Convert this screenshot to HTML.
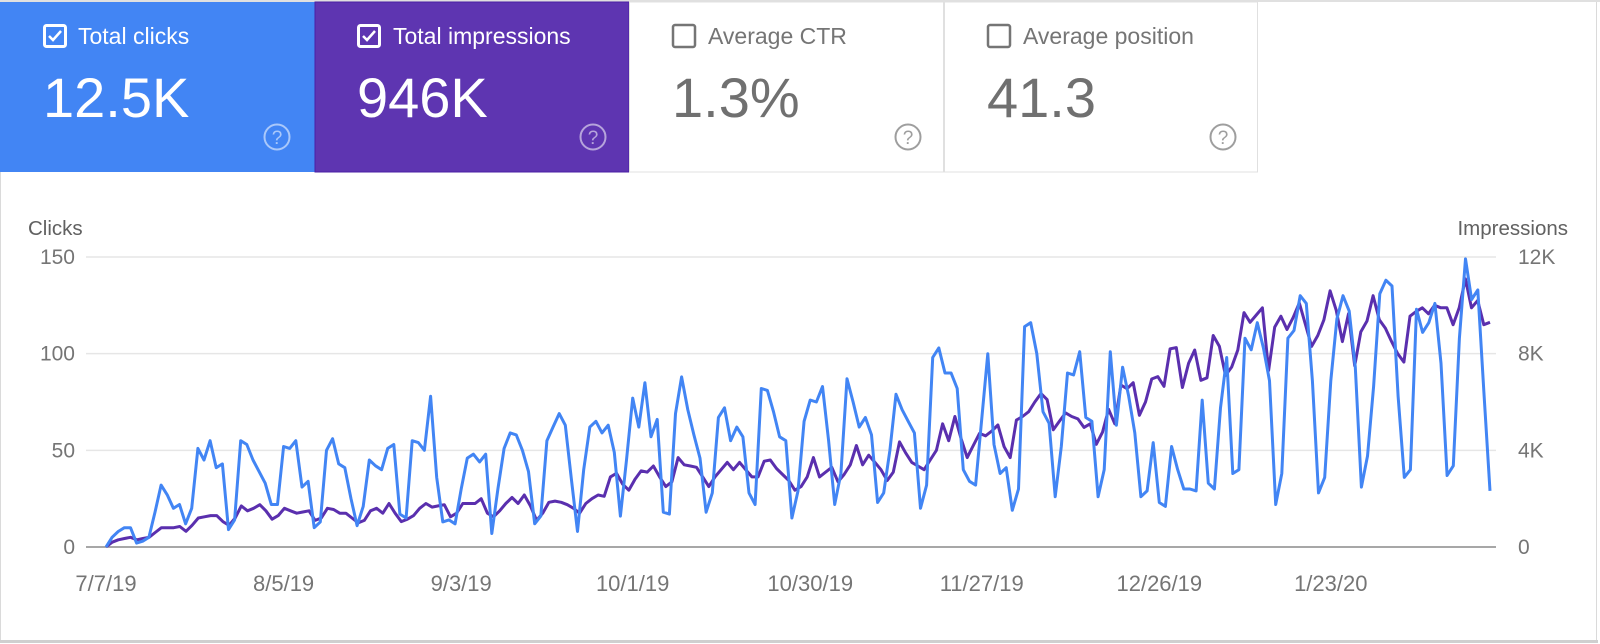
<!DOCTYPE html>
<html><head><meta charset="utf-8"><style>
html,body{margin:0;padding:0;background:#fff;width:1600px;height:644px;overflow:hidden;font-family:"Liberation Sans",sans-serif}
svg{display:block}
</style></head><body>
<svg id="root" width="1600" height="644" viewBox="0 0 1600 644" xmlns="http://www.w3.org/2000/svg">
  <rect x="0.5" y="0.5" width="1596" height="641" fill="#fff" stroke="#dadada"/>
  <rect x="0" y="640" width="1598" height="3" fill="#cfcfcf"/>
  <rect x="0" y="0" width="1600" height="2" fill="#e0e0e0"/>

  <g>
    <rect x="0" y="2" width="315" height="170" fill="#4285f4"/>
    <g>
      <rect x="44.5" y="25.5" width="21" height="21" rx="2" fill="none" stroke="#fff" stroke-width="3"/>
      <path d="M49 36 l4 4 l8 -9" fill="none" stroke="#fff" stroke-width="2.5"/>
    </g>
    <text x="78" y="44" font-size="23" fill="#fff">Total clicks</text>
    <text x="43" y="117" font-size="56" fill="#fff">12.5K</text>
    <g opacity="0.55">
      <circle cx="277" cy="137" r="12.5" fill="none" stroke="#fff" stroke-width="2"/>
      <text x="277" y="144" font-size="19" fill="#fff" text-anchor="middle">?</text>
    </g>
  </g>

  <g>
    <rect x="315" y="2" width="314" height="170" fill="#5e35b1" stroke="#4a1fa5" stroke-width="1"/>
    <g>
      <rect x="358.5" y="25.5" width="21" height="21" rx="2" fill="none" stroke="#fff" stroke-width="3"/>
      <path d="M363 36 l4 4 l8 -9" fill="none" stroke="#fff" stroke-width="2.5"/>
    </g>
    <text x="393" y="44" font-size="23" fill="#fff">Total impressions</text>
    <text x="357" y="117" font-size="56" fill="#fff">946K</text>
    <g opacity="0.55">
      <circle cx="593" cy="137" r="12.5" fill="none" stroke="#fff" stroke-width="2"/>
      <text x="593" y="144" font-size="19" fill="#fff" text-anchor="middle">?</text>
    </g>
  </g>

  <g>
    <rect x="629.5" y="2" width="314" height="170" fill="#fff" stroke="#e0e0e0"/>
    <rect x="673" y="25" width="22" height="22" rx="2" fill="none" stroke="#757575" stroke-width="2.5"/>
    <text x="708" y="44" font-size="23" fill="#757575">Average CTR</text>
    <text x="672" y="117" font-size="56" fill="#707070">1.3%</text>
    <g>
      <circle cx="908" cy="137" r="12.5" fill="none" stroke="#9e9e9e" stroke-width="2"/>
      <text x="908" y="144" font-size="19" fill="#9e9e9e" text-anchor="middle">?</text>
    </g>
  </g>

  <g>
    <rect x="944.5" y="2" width="313" height="170" fill="#fff" stroke="#e0e0e0"/>
    <rect x="988" y="25" width="22" height="22" rx="2" fill="none" stroke="#757575" stroke-width="2.5"/>
    <text x="1023" y="44" font-size="23" fill="#757575">Average position</text>
    <text x="987" y="117" font-size="56" fill="#707070">41.3</text>
    <g>
      <circle cx="1223" cy="137" r="12.5" fill="none" stroke="#9e9e9e" stroke-width="2"/>
      <text x="1223" y="144" font-size="19" fill="#9e9e9e" text-anchor="middle">?</text>
    </g>
  </g>

  <text x="28" y="235" font-size="20.5" fill="#616161">Clicks</text>
  <text x="1568" y="235" font-size="20.5" fill="#616161" text-anchor="end">Impressions</text>
  <g id="chart"></g>
</svg>
<script>
const clicks = [0,5,8,10,10,2,3,5,18,32,27,20,22,12,20,51,
45,55,41,43,9,14,55,53,45,39,33,22,22,
52,51,55,31,34,10,13,50,56,43,41,25,11,21,
45,42,40,51,53,17,15,55,54,50,78,36,13,
14,12,30,46,48,44,48,7,30,51,59,58,50,39,12,16,55,
62,69,63,35,8,40,62,65,59,63,49,16,45,77,62,85,57,66,18,
17,69,88,71,58,46,18,28,67,72,55,62,57,28,22,82,81,70,57,55,
15,29,65,76,75,83,55,22,38,87,75,62,67,58,23,28,50,79,71,65,59,20,32,98,103,90,90,82,
40,34,32,66,100,53,38,41,19,30,114,116,100,70,64,26,52,90,89,101,67,65,26,40,101,63,93,78,
59,26,29,54,23,21,52,40,30,30,29,76,33,30,72,98,38,40,108,102,116,103,86,22,38,108,112,130,126,86,28,36,86,118,130,122,93,31,47,83,131,138,135,78,36,40,123,111,116,126,95,37,42,108,149,128,133,80,29];
const impressions = [0,200,300,350,400,300,350,400,600,800,800,800,850,650,900,1200,
1250,1300,1300,1050,900,1200,1700,1500,1600,1750,1500,1150,1300,
1600,1500,1400,1450,1500,1100,1200,1600,1550,1400,1400,1200,1000,1100,
1500,1600,1400,1800,1400,1050,1150,1300,1600,1800,1650,1700,1750,
1250,1400,1800,1800,1800,2000,1400,1250,1500,1800,2050,1800,2150,1700,1100,1400,1850,
1900,1850,1750,1600,1400,1800,2000,2150,2100,2900,3050,2600,2350,2800,3150,3100,3350,2900,2500,
2700,3700,3400,3350,3300,2900,2500,2900,3200,3500,3200,3500,3200,2900,2900,3550,3600,3250,3000,2750,
2350,2500,2900,3700,2900,3100,3300,2700,3000,3400,4200,3400,3800,3500,3200,2750,3100,4350,3900,3500,3350,3200,3600,4000,5100,4400,5400,4500,3700,4200,4700,4600,4800,5050,4150,3700,5250,5400,5600,6000,6350,6100,4850,5200,5550,5400,5300,4950,5100,4250,4750,5700,5100,6700,6550,
6800,5450,6000,6950,7050,6650,8200,8250,6600,7600,8150,6900,7000,8750,8300,7100,7450,8150,9700,9300,9600,9900,7300,9100,9550,9000,9500,10100,9200,8300,8750,9400,10600,9800,8500,9650,7500,8900,9350,10400,9400,9050,8500,8000,7650,9550,9750,9900,9650,10000,9900,9900,9200,9900,11100,9900,10200,9200,9300];
const clickTicks = [0,50,100,150];
const impressionTickLabels = ["0","4K","8K","12K"];
const impressionTicks = [0,4000,8000,12000];
const dateLabels = ["7/7/19","8/5/19","9/3/19","10/1/19","10/30/19","11/27/19","12/26/19","1/23/20"];
const dateIndex = [0,29,58,86,115,143,172,200];

const NS = "http://www.w3.org/2000/svg";
const g = document.getElementById('chart');
const X0 = 106, X1 = 1490, Y0 = 547, YTOP = 257;
const xScale = (i, n) => X0 + i * (X1 - X0) / (n - 1);
const yClicks = v => Y0 - v * (Y0 - YTOP) / 150;
const yImpr = v => Y0 - v * (Y0 - YTOP) / 12000;
function mk(tag, attrs){const e=document.createElementNS(NS,tag);for(const k in attrs)e.setAttribute(k,attrs[k]);return e;}

clickTicks.forEach((t, k) => {
  const y = yClicks(t);
  const line = mk('line',{x1:86,x2:1496,y1:y,y2:y,stroke:t===0?'#8a8a8a':'#e6e6e6','stroke-width':1.5});
  
  
  g.appendChild(line);
  const lt = mk('text',{x:75,y:y+7,'font-size':21,fill:'#757575','text-anchor':'end'});
  lt.textContent = String(t);
  
  
  g.appendChild(lt);
});
impressionTicks.forEach((t, k) => {
  const rt = mk('text',{x:1518,y:yImpr(t)+7,'font-size':21,fill:'#757575'});
  rt.textContent = impressionTickLabels[k];
  
  
  g.appendChild(rt);
});
dateLabels.forEach((d, k) => {
  const dt = mk('text',{x:xScale(dateIndex[k], clicks.length),y:591,'font-size':22,fill:'#757575','text-anchor':'middle'});
  dt.textContent = d;
  
  
  g.appendChild(dt);
});

const ip = impressions.map((v,i)=>xScale(i,impressions.length).toFixed(1)+','+yImpr(v).toFixed(1)).join(' ');
const pl1 = mk('polyline',{points:ip,fill:'none',stroke:'#5a2fae','stroke-width':3,'stroke-linejoin':'round'});


g.appendChild(pl1);

const cp = clicks.map((v,i)=>xScale(i,clicks.length).toFixed(1)+','+yClicks(v).toFixed(1)).join(' ');
const pl2 = mk('polyline',{points:cp,fill:'none',stroke:'#4285f4','stroke-width':3,'stroke-linejoin':'round'});


g.appendChild(pl2);
</script>
</body></html>
